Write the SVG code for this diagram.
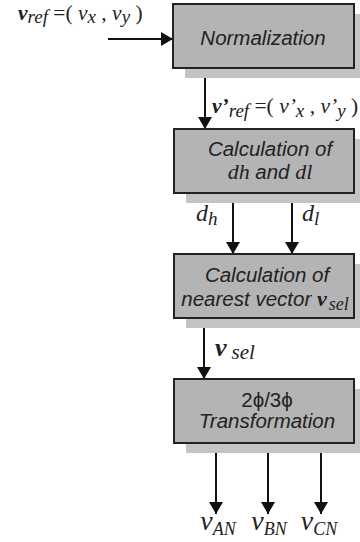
<svg xmlns="http://www.w3.org/2000/svg" width="360" height="542" viewBox="0 0 360 542">
<style>
.box{fill:#b4b4b4;stroke:#222;stroke-width:2}
.sh{fill:#c4c4c4}
.t{font-family:"Liberation Sans",Arial,sans-serif;font-style:italic;font-size:20.5px;fill:#222;text-anchor:middle}
.m{font-family:"Liberation Serif","Times New Roman",serif;font-style:italic;fill:#222}
.n{font-style:normal}
.b{font-weight:bold}
.c{stroke:#111;stroke-width:2;fill:none;marker-end:url(#ah)}
</style>
<defs>
<marker id="ah" markerUnits="userSpaceOnUse" markerWidth="12" markerHeight="14" viewBox="0 0 12 14" refX="12" refY="7" orient="auto">
<path d="M0,0 L12,7 L0,14 Z" fill="#111"/>
</marker>
</defs>
<g id="connectors">
<line class="c" x1="108" y1="39" x2="173" y2="39"/>
<line class="c" x1="205" y1="68" x2="205" y2="129"/>
<line class="c" x1="233" y1="193" x2="233" y2="254"/>
<line class="c" x1="292" y1="193" x2="292" y2="254"/>
<line class="c" x1="204" y1="318" x2="204" y2="379"/>
<line class="c" x1="216" y1="443" x2="216" y2="514"/>
<line class="c" x1="268" y1="443" x2="268" y2="514"/>
<line class="c" x1="321" y1="443" x2="321" y2="514"/>
</g>
<g id="normalization">
<rect class="sh" x="185" y="14" width="181" height="64"/>
<rect class="box" x="173" y="4" width="181" height="64"/>
<text class="t" x="263" y="45">Normalization</text>
</g>
<g id="calc-dh-dl">
<rect class="sh" x="186" y="139" width="180" height="64"/>
<rect class="box" x="174" y="129" width="180" height="64"/>
<text class="t" x="270" y="156">Calculation of</text>
<text class="t" x="270" y="179"><tspan class="m" font-size="22">dh</tspan> and <tspan class="m" font-size="22">dl</tspan></text>
</g>
<g id="calc-nearest">
<rect class="sh" x="186" y="264" width="180" height="64"/>
<rect class="box" x="174" y="254" width="180" height="64"/>
<text class="t" x="267" y="282">Calculation of</text>
<text class="t" x="265" y="306">nearest vector <tspan class="m b" font-size="22">v</tspan><tspan class="m" font-size="18" dx="2" dy="4">sel</tspan></text>
</g>
<g id="transformation">
<rect class="sh" x="186" y="389" width="180" height="64"/>
<rect class="box" x="174" y="379" width="180" height="64"/>
<text class="t n" x="267" y="407">2ϕ/3ϕ</text>
<text class="t" x="267" y="428">Transformation</text>
</g>
<g id="labels">
<text class="m" x="18" y="20" font-size="21.5"><tspan class="b">v</tspan><tspan font-size="19" dy="3">ref</tspan><tspan class="n" dy="-3"> =( </tspan>v<tspan font-size="19" dy="3">x</tspan><tspan class="n" dy="-3"> , </tspan>v<tspan font-size="19" dy="3">y</tspan><tspan class="n" dy="-3"> )</tspan></text>
<text class="m" x="212" y="113" font-size="21.5"><tspan class="b">v’</tspan><tspan font-size="19" dy="4">ref</tspan><tspan class="n" dy="-4"> =( </tspan>v’<tspan font-size="19" dy="4">x</tspan><tspan class="n" dy="-4"> , </tspan>v’<tspan font-size="19" dy="4">y</tspan><tspan class="n" dy="-4"> )</tspan></text>
<text class="m" x="196" y="221" font-size="24">d<tspan font-size="19" dy="4">h</tspan></text>
<text class="m" x="302" y="221" font-size="24">d<tspan font-size="19" dy="4">l</tspan></text>
<text class="m" x="215" y="356" font-size="26"><tspan class="b">v</tspan><tspan font-size="21" dx="5" dy="3">sel</tspan></text>
<text class="m" x="218" y="530" font-size="28" text-anchor="middle">v<tspan font-size="18" dy="5">AN</tspan></text>
<text class="m" x="269" y="530" font-size="28" text-anchor="middle">v<tspan font-size="18" dy="5">BN</tspan></text>
<text class="m" x="319" y="530" font-size="28" text-anchor="middle">v<tspan font-size="18" dy="5">CN</tspan></text>
</g>
</svg>
